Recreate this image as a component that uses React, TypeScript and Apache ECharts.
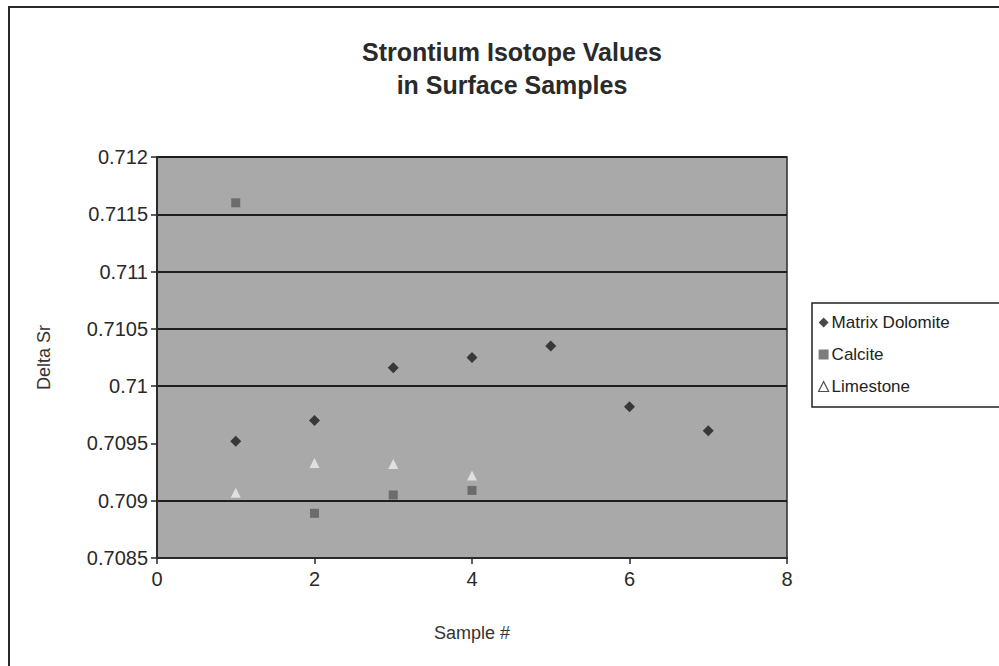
import React, { useEffect, useRef } from "react";
import * as echarts from "echarts";

const sampleNumbers = [1, 2, 3, 4, 5, 6, 7];
const matrixDolomite = [0.70952, 0.7097, 0.71016, 0.71025, 0.71035, 0.70982, 0.70961];
const calciteSamples = [1, 2, 3, 4];
const calcite = [0.7116, 0.70889, 0.70905, 0.70909];
const limestoneSamples = [1, 2, 3, 4];
const limestone = [0.70907, 0.70933, 0.70932, 0.70922];
// gridline shown (true) or hidden (false) for each y tick, bottom to top: 0.7085 … 0.712
const gridShown = [true, true, false, true, true, true, true, true];
const yTicks = { min: 0.7085, max: 0.712, interval: 0.0005 };
const xTicks = { min: 0, max: 8, interval: 2 };

const FONT = "'Liberation Sans', Arial, sans-serif";

export default function App() {
  const ref = useRef<HTMLDivElement>(null);
  useEffect(() => {
    if (!ref.current) return;
    const chart = echarts.init(ref.current, null, { renderer: "svg" });
    const pair = (xs: number[], ys: number[]) => xs.map((x, i) => [x, ys[i]]);
    chart.setOption({
      animation: false,
      backgroundColor: "#ffffff",
      title: {
        text: "Strontium Isotope Values\nin Surface Samples",
        left: 507,
        textAlign: "center",
        top: 30,
        textStyle: {
          fontFamily: FONT,
          fontSize: 25,
          fontWeight: "bold",
          color: "#2a2a2a",
          lineHeight: 33,
        },
      },
      graphic: [
        {
          type: "rect",
          shape: { x: 9, y: 7, width: 1100, height: 700 },
          style: { fill: "none", stroke: "#2a2a2a", lineWidth: 2 },
          silent: true,
        },
      ],
      legend: {
        left: 812,
        top: 303,
        orient: "vertical",
        padding: [11, 60, 12, 6],
        itemGap: 15,
        itemWidth: 10,
        itemHeight: 10,
        borderColor: "#222",
        borderWidth: 1.5,
        backgroundColor: "#ffffff",
        textStyle: { fontFamily: FONT, fontSize: 17, color: "#222", padding: [0, 0, 0, -2] },
        data: [
          { name: "Matrix Dolomite", icon: "diamond" },
          { name: "Calcite", icon: "rect" },
          {
            name: "Limestone",
            icon: "triangle",
            itemStyle: { color: "#ffffff", borderColor: "#222", borderWidth: 1.2 },
          },
        ],
      },
      grid: {
        left: 157,
        right: 212,
        top: 157,
        bottom: 108,
        show: true,
        backgroundColor: "#a9a9a9",
        borderColor: "#2a2a2a",
        borderWidth: 1.5,
      },
      xAxis: {
        type: "value",
        min: xTicks.min,
        max: xTicks.max,
        interval: xTicks.interval,
        name: "Sample #",
        nameLocation: "middle",
        nameGap: 66,
        nameTextStyle: { fontFamily: FONT, fontSize: 18, color: "#333" },
        axisLine: { show: true, lineStyle: { color: "#2a2a2a", width: 2 } },
        axisTick: { show: true, length: 6, lineStyle: { color: "#2a2a2a", width: 1.5 } },
        axisLabel: { fontFamily: FONT, fontSize: 20, color: "#2a2a2a", margin: 11 },
        splitLine: { show: false },
      },
      yAxis: {
        type: "value",
        min: yTicks.min,
        max: yTicks.max,
        interval: yTicks.interval,
        name: "Delta Sr",
        nameLocation: "middle",
        nameGap: 104,
        nameRotate: 90,
        nameTextStyle: { fontFamily: FONT, fontSize: 18, color: "#333" },
        axisLine: { show: true, lineStyle: { color: "#2a2a2a", width: 2 } },
        axisTick: { show: true, length: 6, lineStyle: { color: "#2a2a2a", width: 1.5 } },
        axisLabel: {
          fontFamily: FONT,
          fontSize: 20,
          color: "#2a2a2a",
          margin: 9,
          formatter: (v: number) => String(parseFloat(v.toFixed(4))),
        },
        splitLine: {
          show: true,
          lineStyle: {
            width: 2,
            color: gridShown.map((s) => (s ? "#1e1e1e" : "rgba(0,0,0,0)")),
          },
        },
      },
      series: [
        {
          name: "Matrix Dolomite",
          type: "scatter",
          symbol: "diamond",
          symbolSize: 11,
          itemStyle: { color: "#1c1c1c" },
          data: pair(sampleNumbers, matrixDolomite),
        },
        {
          name: "Calcite",
          type: "scatter",
          symbol: "rect",
          symbolSize: 9,
          itemStyle: { color: "#5c5c5c" },
          data: pair(calciteSamples, calcite),
        },
        {
          name: "Limestone",
          type: "scatter",
          symbol: "triangle",
          symbolSize: 10,
          itemStyle: { color: "#eeeeee" },
          data: pair(limestoneSamples, limestone),
        },
      ],
    });
    return () => chart.dispose();
  }, []);
  return (
    <div
      ref={ref}
      style={{ position: "fixed", left: 0, top: 0, width: 999, height: 666 }}
    />
  );
}
